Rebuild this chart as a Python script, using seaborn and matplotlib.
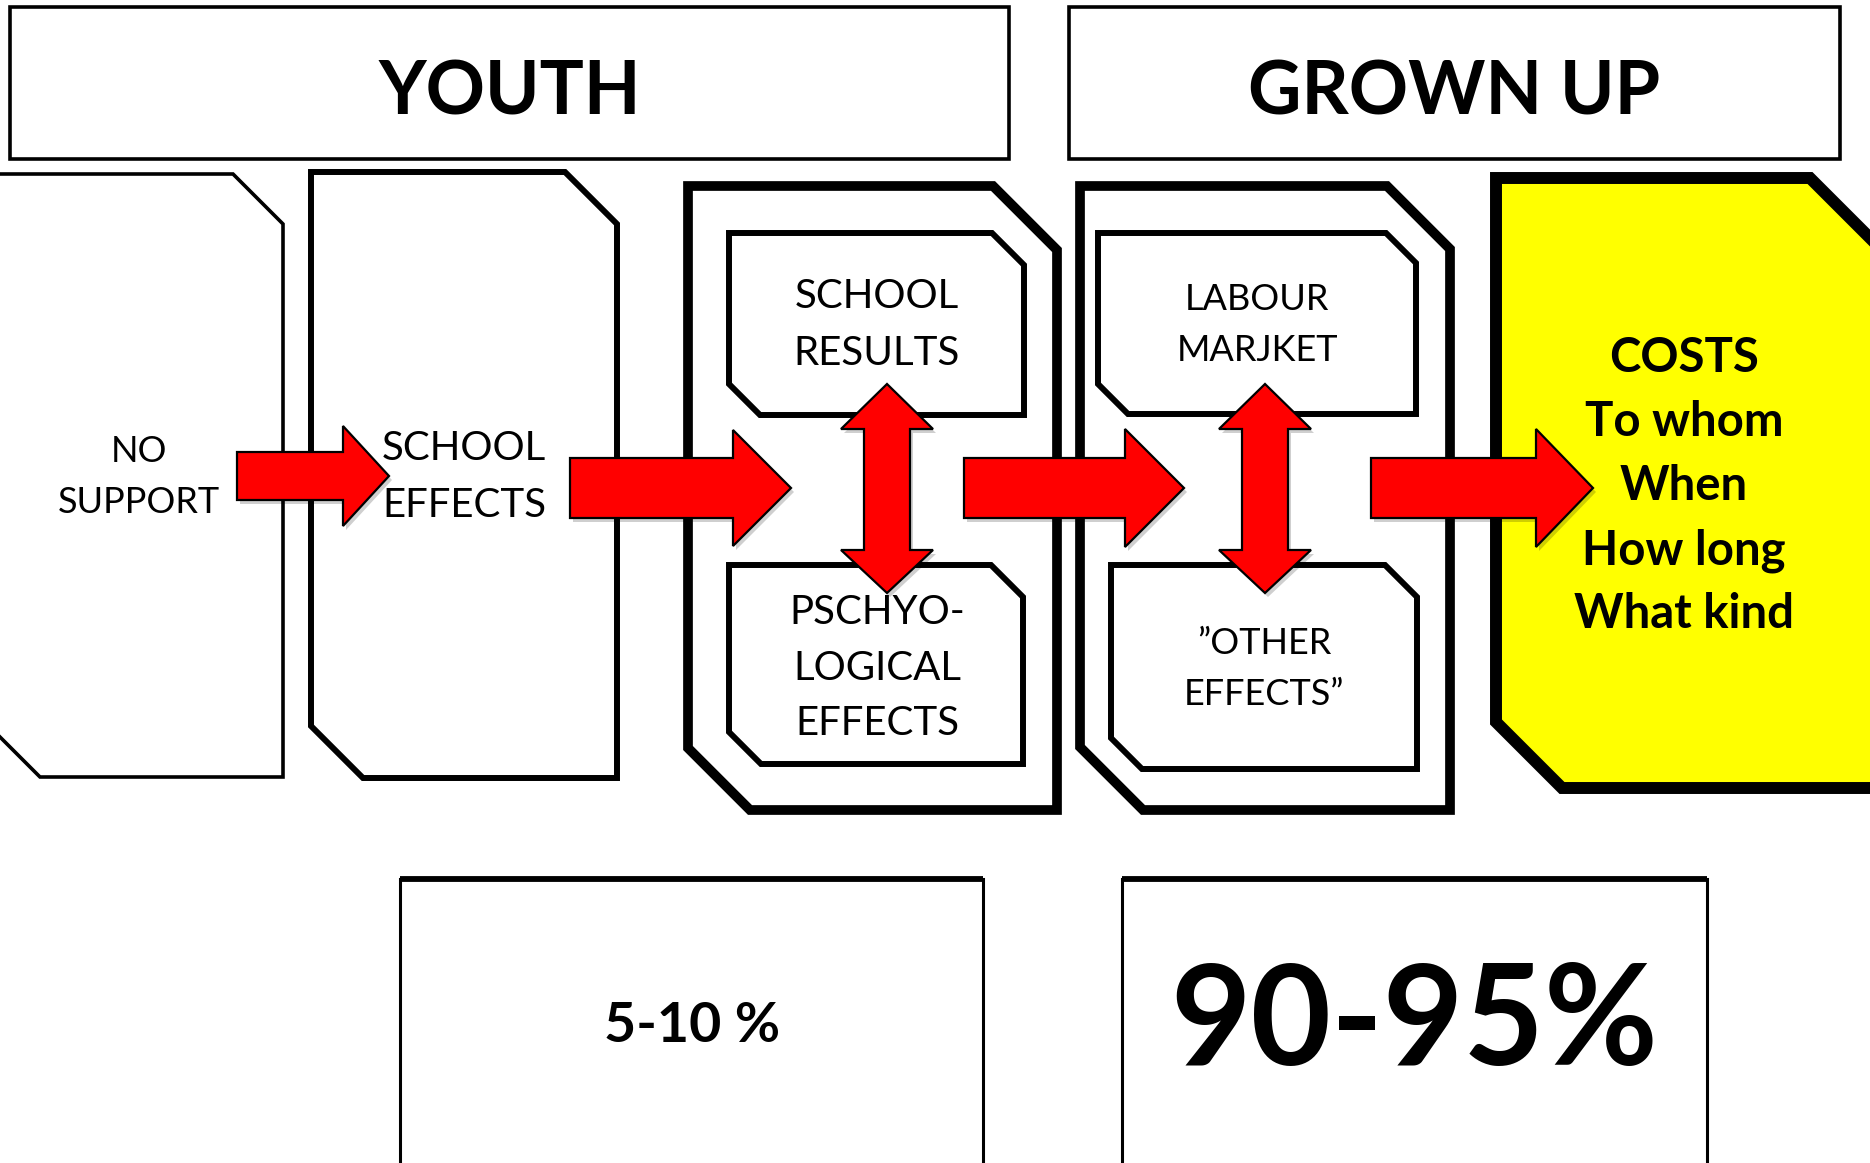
import matplotlib
matplotlib.use("Agg")
import matplotlib.pyplot as plt
from matplotlib.patches import Polygon, Rectangle
import seaborn as sns

# ---- content ----
header_labels = ["YOUTH", "GROWN UP"]
stage_labels = ["NO\nSUPPORT", "SCHOOL\nEFFECTS"]
inner_labels = ["SCHOOL\nRESULTS", "PSCHYO-\nLOGICAL\nEFFECTS", "LABOUR\nMARJKET", "\u201dOTHER\nEFFECTS\u201d"]
cost_lines = ["COSTS", "To whom", "When", "How long", "What kind"]
share_labels = ["5-10 %", "90-95%"]

sns.set_theme(style="white")
plt.rcParams['font.family'] = ['Lato', 'DejaVu Sans']
plt.rcParams['text.color'] = 'black'

W, H = 1870, 1163
fig = plt.figure(figsize=(W / 100, H / 100), dpi=100)
ax = fig.add_axes([0, 0, 1, 1])
ax.set_xlim(0, W)
ax.set_ylim(H, 0)
ax.axis("off")


def cut_box(x0, y0, x1, y1, c1, c2, lw, fc="white", z=2):
    pts = [(x0, y0), (x1 - c1, y0), (x1, y0 + c1), (x1, y1), (x0 + c2, y1), (x0, y1 - c2)]
    ax.add_patch(Polygon(pts, closed=True, fc=fc, ec="black", lw=lw, joinstyle="miter", zorder=z))


def harrow(x0, xb, xt, yc, h, hh, z=5):
    pts = [(x0, yc - h), (xb, yc - h), (xb, yc - hh), (xt, yc), (xb, yc + hh), (xb, yc + h), (x0, yc + h)]
    sh = [(px + 3, py + 4) for px, py in pts]
    ax.add_patch(Polygon(sh, closed=True, fc="#00000030", ec="none", zorder=z - 0.1))
    ax.add_patch(Polygon(pts, closed=True, fc="#ff0000", ec="black", lw=1.6, joinstyle="miter", zorder=z))


def varrow(xc, yt, yb1, yb2, ybot, h, hh, z=5):
    pts = [(xc, yt), (xc + hh, yb1), (xc + h, yb1), (xc + h, yb2), (xc + hh, yb2), (xc, ybot),
           (xc - hh, yb2), (xc - h, yb2), (xc - h, yb1), (xc - hh, yb1)]
    sh = [(px + 3, py + 4) for px, py in pts]
    ax.add_patch(Polygon(sh, closed=True, fc="#00000030", ec="none", zorder=z - 0.1))
    ax.add_patch(Polygon(pts, closed=True, fc="#ff0000", ec="black", lw=1.6, joinstyle="miter", zorder=z))


# header boxes
for (x0, x1), lab in zip([(10, 1009), (1069, 1840)], header_labels):
    ax.add_patch(Rectangle((x0, 7), x1 - x0, 152, fc="white", ec="black", lw=2.6, zorder=2))
    ax.text((x0 + x1) / 2, 93, lab, ha="center", va="center", fontsize=53, fontweight="bold", zorder=6)

# stage boxes
cut_box(-12, 174, 283, 777, 50, 52, 2.6)
cut_box(311, 172, 617, 778, 52, 52, 4.3)
cut_box(688, 186, 1057, 810, 64, 62, 7.0)
cut_box(1080, 186, 1450, 810, 63, 63, 7.0)
cut_box(1496, 178, 1895, 788, 85, 66, 8.6, fc="#ffff00")

# inner boxes
cut_box(729, 233, 1024, 415, 32, 31, 4.3, z=3)
cut_box(729, 565, 1023, 764, 32, 32, 4.3, z=3)
cut_box(1098, 233, 1416, 414, 30, 30, 4.3, z=3)
cut_box(1111, 565, 1417, 769, 32, 31, 4.3, z=3)

# bottom share boxes
for x0, x1 in [(400, 983), (1122, 1707)]:
    ax.add_patch(Rectangle((x0, 879), x1 - x0, 300, fc="white", ec="black", lw=2.2, zorder=2))
    ax.plot([x0, x1], [879, 879], color="black", lw=4.2, zorder=3, solid_capstyle="butt")

# arrows
harrow(237, 343, 389, 476, 24, 50)
harrow(570, 733, 791, 488, 30, 58)
harrow(964, 1125, 1184, 488, 30, 59)
harrow(1371, 1536, 1593, 488, 30, 59)
varrow(887, 384, 429, 550, 593, 23, 46)
varrow(1265, 384, 429, 550, 593, 23, 46)

# texts
ax.text(139, 477, stage_labels[0], ha="center", va="center", fontsize=26, linespacing=1.7, zorder=6)
ax.text(464, 477, stage_labels[1], ha="center", va="center", fontsize=29, linespacing=1.65, zorder=6)
ax.text(877, 325, inner_labels[0], ha="center", va="center", fontsize=29, linespacing=1.65, zorder=6)
ax.text(877, 668, inner_labels[1], ha="center", va="center", fontsize=29, linespacing=1.63, zorder=6)
ax.text(1257, 325, inner_labels[2], ha="center", va="center", fontsize=26, linespacing=1.68, zorder=6)
ax.text(1264, 669, inner_labels[3], ha="center", va="center", fontsize=26, linespacing=1.65, zorder=6)

cost_y = [358, 422, 486, 551, 614]
for y, s in zip(cost_y, cost_lines):
    ax.text(1684, y, s, ha="center", va="center", fontsize=34, fontweight="bold", zorder=6)

ax.text(692, 1026, share_labels[0], ha="center", va="center", fontsize=40, fontweight="bold", zorder=6)
ax.text(1414, 1025, share_labels[1], ha="center", va="center", fontsize=100, fontweight="bold", zorder=6)

fig.savefig("out.png", dpi=100, facecolor="white")
